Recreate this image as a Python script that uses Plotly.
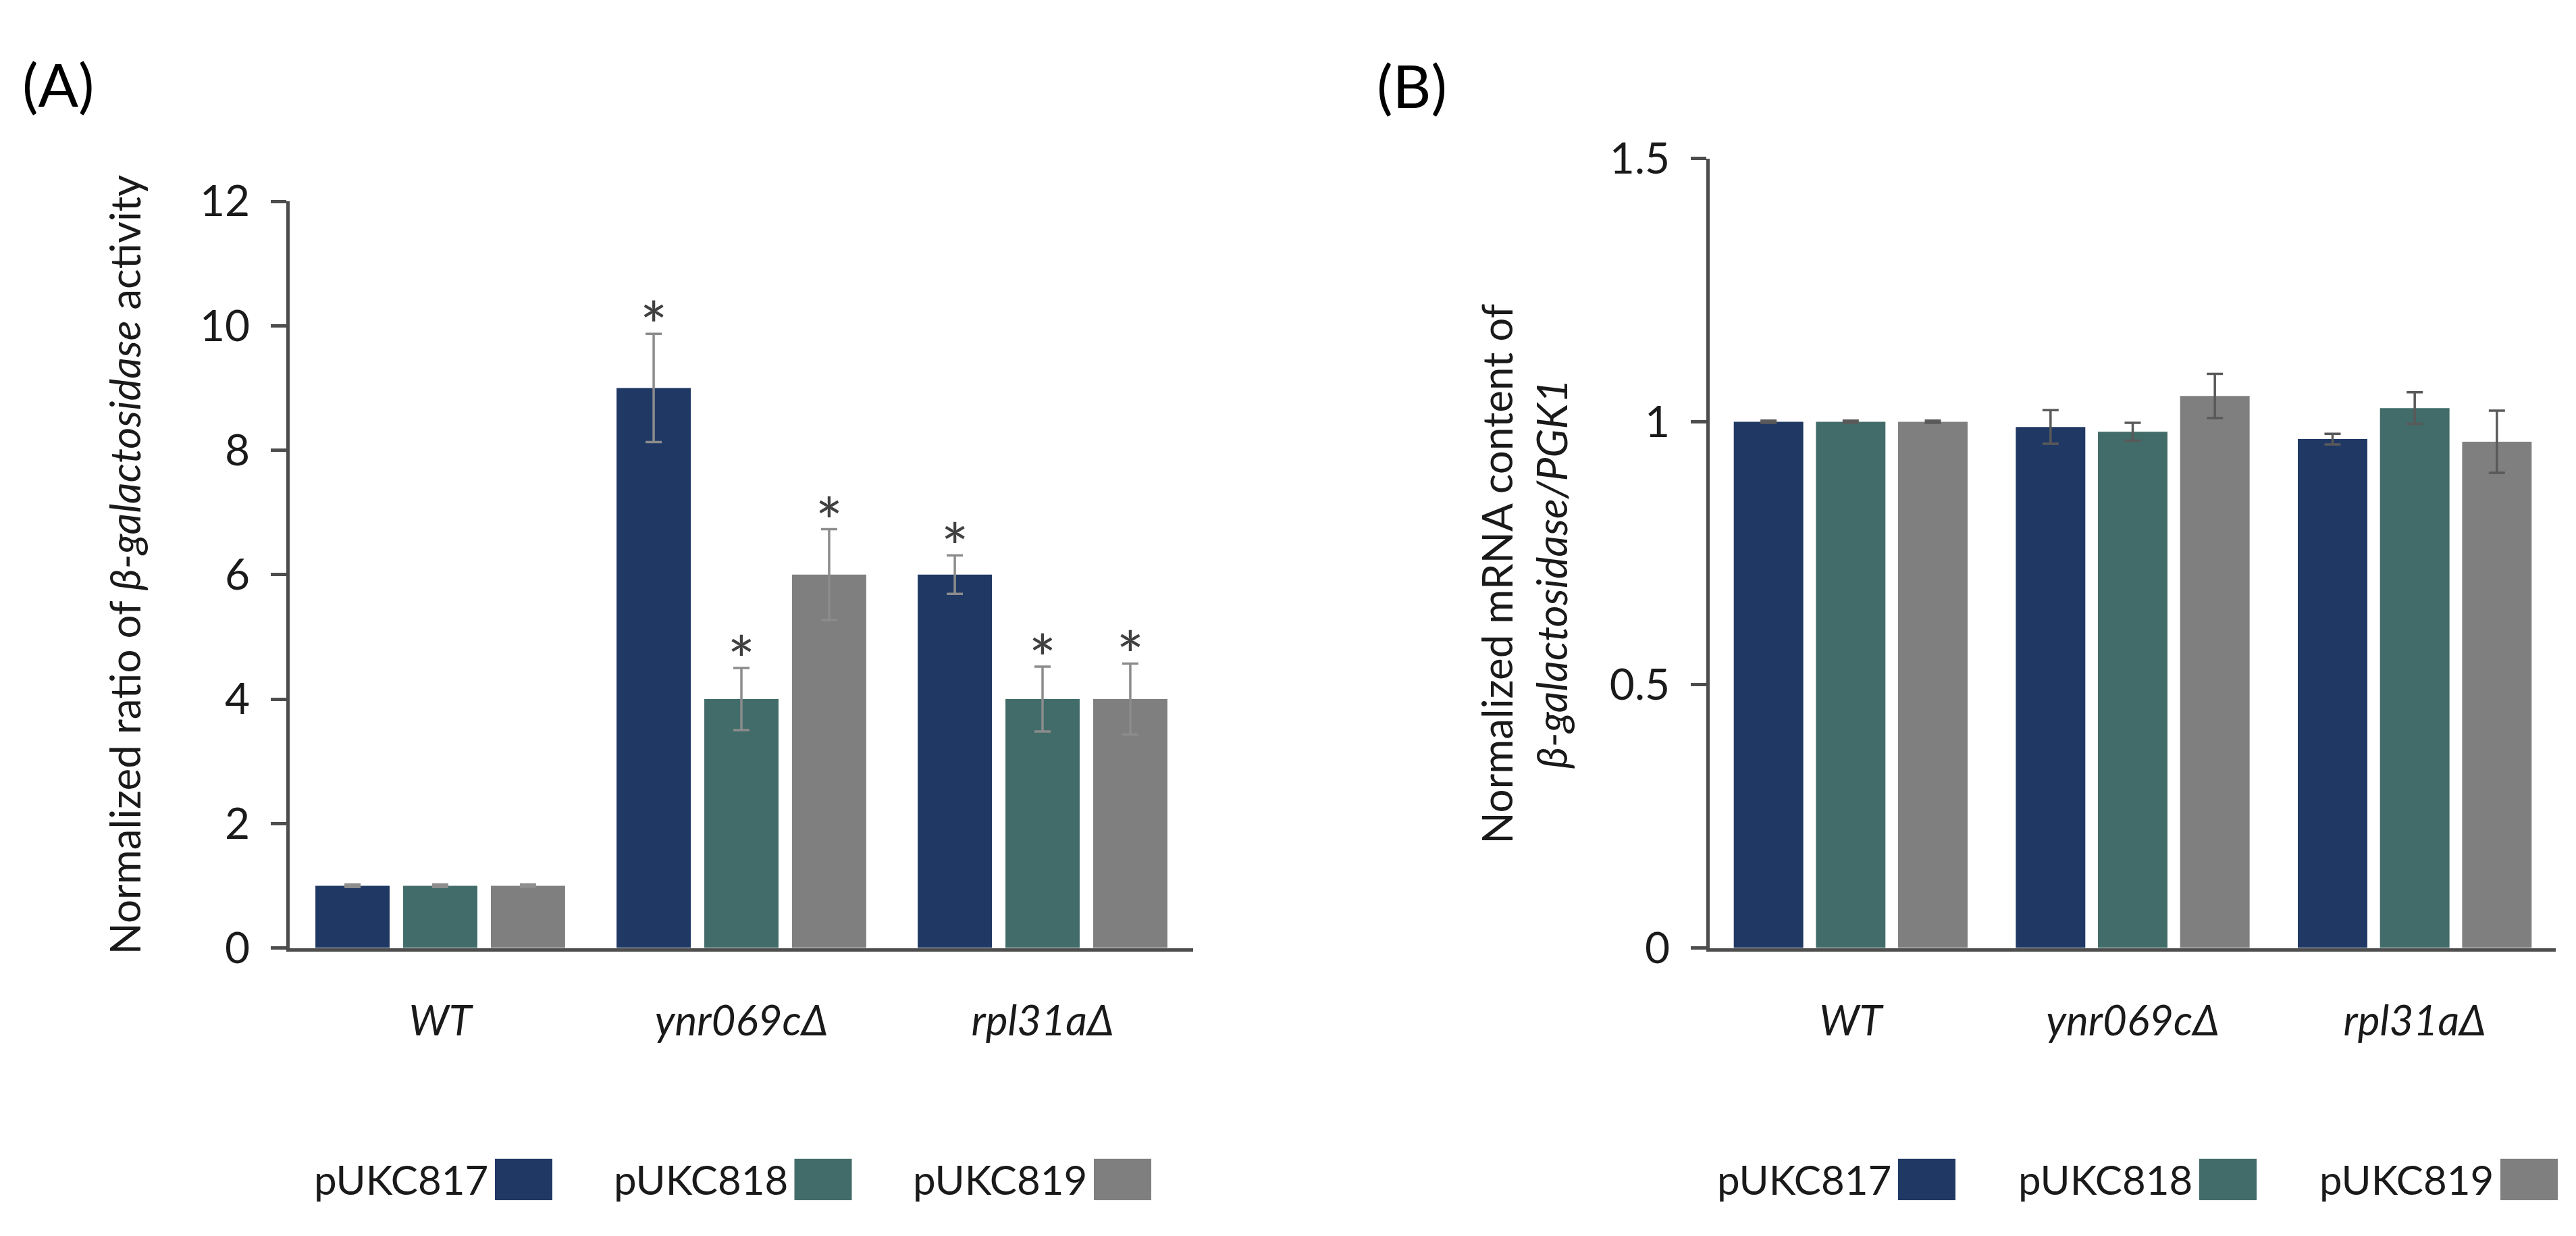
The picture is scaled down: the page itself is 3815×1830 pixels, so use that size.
import plotly.graph_objects as go

W, H = 3815, 1830

categories = ["WT", "ynr069cΔ", "rpl31aΔ"]
series_names = ["pUKC817", "pUKC818", "pUKC819"]
colors = ["#203864", "#426C69", "#7F7F7F"]

# Panel A: normalized ratio of beta-galactosidase activity
a_817 = [1.0, 9.0, 6.0]
a_818 = [1.0, 4.0, 4.0]
a_819 = [1.0, 6.0, 4.0]
a_817_err = [0.02, 0.87, 0.31]
a_818_err = [0.02, 0.50, 0.52]
a_819_err = [0.02, 0.73, 0.57]
a_817_star = ["", "*", "*"]
a_818_star = ["", "*", "*"]
a_819_star = ["", "*", "*"]

# Panel B: normalized mRNA content
b_817 = [1.0, 0.99, 0.967]
b_818 = [1.0, 0.981, 1.026]
b_819 = [1.0, 1.049, 0.962]
b_817_err = [0.002, 0.032, 0.010]
b_818_err = [0.002, 0.017, 0.030]
b_819_err = [0.002, 0.042, 0.059]

FONT = "Lato, 'Open Sans', 'DejaVu Sans', sans-serif"
AXIS_COLOR = "#4d4d4d"
TEXT_COLOR = "#1a1a1a"

fig = go.Figure()

a_vals = [a_817, a_818, a_819]
a_errs = [a_817_err, a_818_err, a_819_err]
a_stars = [a_817_star, a_818_star, a_819_star]
for name, col, vals, errs in zip(series_names, colors, a_vals, a_errs):
    fig.add_trace(go.Bar(
        x=categories, y=vals, name=name, marker=dict(color=col, line=dict(width=0)),
        error_y=dict(type="data", array=errs, color="#8c8c8c", thickness=3.5, width=12),
        xaxis="x", yaxis="y", showlegend=False,
    ))
for name, vals, errs, stars in zip(series_names, a_vals, a_errs, a_stars):
    fig.add_trace(go.Scatter(
        x=categories, y=[v + e for v, e in zip(vals, errs)], mode="text", text=stars,
        textposition="middle center",
        textfont=dict(family=FONT, size=96, color="#404040"),
        xaxis="x", yaxis="y", showlegend=False, hoverinfo="skip",
    ))

b_vals = [b_817, b_818, b_819]
b_errs = [b_817_err, b_818_err, b_819_err]
for name, col, vals, errs in zip(series_names, colors, b_vals, b_errs):
    fig.add_trace(go.Bar(
        x=categories, y=vals, name=name, marker=dict(color=col, line=dict(width=0)),
        error_y=dict(type="data", array=errs, color="#595959", thickness=3.5, width=12),
        xaxis="x2", yaxis="y2", showlegend=False,
    ))

italic_labels = ["<i>%s</i>" % c for c in categories]

common_x = dict(
    showline=True, linecolor=AXIS_COLOR, linewidth=5, ticks="", showgrid=False,
    zeroline=False, tickvals=categories, ticktext=italic_labels,
    tickfont=dict(family=FONT, size=62, color=TEXT_COLOR), ticklabelstandoff=50,
    fixedrange=True,
)
common_y = dict(
    showline=True, linecolor=AXIS_COLOR, linewidth=5, ticks="outside", ticklen=23,
    tickwidth=5, tickcolor=AXIS_COLOR, showgrid=False, zeroline=False,
    tickfont=dict(family=FONT, size=64, color=TEXT_COLOR), ticklabelstandoff=18,
)

def px_x(p):
    return p / W

def px_y(p):
    return 1 - p / H

fig.update_layout(
    width=W, height=H,
    margin=dict(l=0, r=0, t=0, b=0),
    paper_bgcolor="white", plot_bgcolor="white",
    barmode="group", bargap=0.126, bargroupgap=0.154,
    scattermode="group", scattergap=0.126,
    font=dict(family=FONT, color=TEXT_COLOR),
    xaxis=dict(domain=[px_x(421), px_x(1759)], anchor="y", **common_x),
    yaxis=dict(domain=[px_y(1414), px_y(260)], anchor="x", range=[0, 12], dtick=2, **common_y),
    xaxis2=dict(domain=[px_x(2524), px_x(3777)], anchor="y2", **common_x),
    yaxis2=dict(domain=[px_y(1414), px_y(194)], anchor="x2", range=[0, 1.5], dtick=0.5, **common_y),
    showlegend=False,
)

annotations = [
    dict(text="(A)", x=px_x(78), y=px_y(78), xref="paper", yref="paper",
         showarrow=False, font=dict(family=FONT, size=88, color="#000000"),
         xanchor="center", yanchor="middle"),
    dict(text="(B)", x=px_x(2083), y=px_y(80), xref="paper", yref="paper",
         showarrow=False, font=dict(family=FONT, size=88, color="#000000"),
         xanchor="center", yanchor="middle"),
    dict(text="Normalized ratio of <i>β-galactosidase</i> activity",
         x=px_x(176), y=px_y(822), xref="paper", yref="paper", textangle=-90,
         showarrow=False, font=dict(family=FONT, size=62, color=TEXT_COLOR),
         xanchor="center", yanchor="middle"),
    dict(text="Normalized mRNA content of<br><i>β-galactosidase/PGK1</i>",
         x=px_x(2249), y=px_y(836), xref="paper", yref="paper", textangle=-90,
         showarrow=False, font=dict(family=FONT, size=62, color=TEXT_COLOR),
         xanchor="center", yanchor="middle"),
]

shapes = []
legend_specs = [(725, 443.5), (2803, 446)]
box_w, box_h, box_top = 85, 64, 1740
for start, step in legend_specs:
    for i, (name, col) in enumerate(zip(series_names, colors)):
        left = start + i * step
        shapes.append(dict(type="rect", xref="paper", yref="paper",
                           x0=px_x(left), x1=px_x(left + box_w),
                           y0=px_y(box_top + box_h), y1=px_y(box_top),
                           fillcolor=col, line=dict(width=0)))
        annotations.append(dict(text=name, x=px_x(left - 8), y=px_y(box_top + box_h / 2),
                                xref="paper", yref="paper", showarrow=False,
                                xanchor="right", yanchor="middle",
                                font=dict(family=FONT, size=60, color=TEXT_COLOR)))

fig.update_layout(annotations=annotations, shapes=shapes)

fig.write_html("out.html")
